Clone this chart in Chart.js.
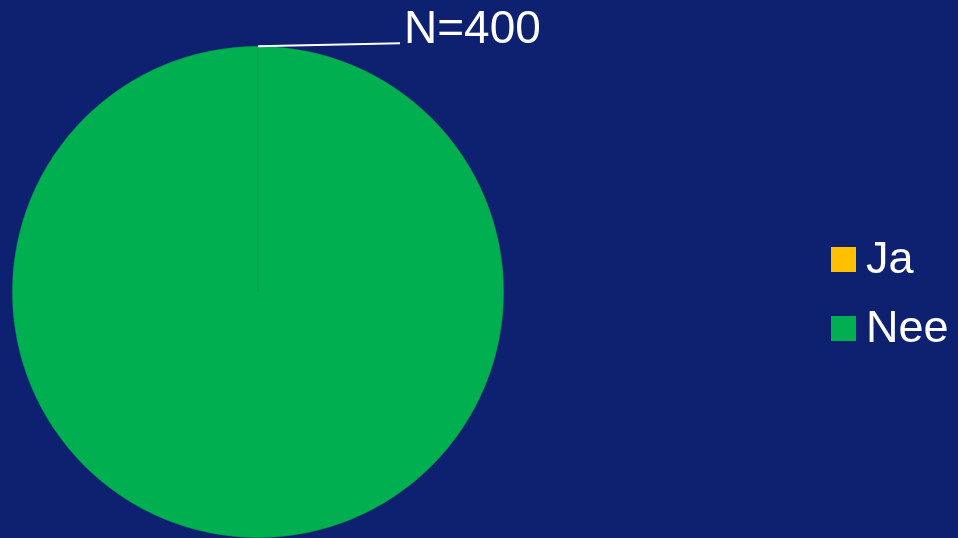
<!DOCTYPE html>
<html>
<head>
<meta charset="utf-8">
<script src="https://cdn.jsdelivr.net/npm/chart.js@4/dist/chart.umd.min.js"></script>
<style>
  html, body { margin: 0; padding: 0; background: #0E2070; overflow: hidden; }
  #wrap { position: relative; width: 958px; height: 538px; }
</style>
</head>
<body>
<div id="wrap"><canvas id="c" width="958" height="538"></canvas></div>
<script>
const categories = ['Ja', 'Nee'];
const counts = [0, 400];
const sliceColors = ['#FFC000', '#00B050'];
const totalLabelPrefix = 'N=';

const FONT = '"Liberation Sans", Arial, sans-serif';

// Total label with a leader line from the top of the pie
const totalLabel = {
  id: 'totalLabel',
  afterDatasetsDraw(chart) {
    const arc = chart.getDatasetMeta(0).data[0];
    if (!arc) return;
    const { x, y, outerRadius } = arc.getProps(['x', 'y', 'outerRadius'], true);
    const ctx = chart.ctx;
    const total = chart.data.datasets[0].data.reduce((a, b) => a + b, 0);
    const sx = x, sy = y - outerRadius;
    ctx.save();
    ctx.strokeStyle = '#FFFFFF';
    ctx.lineWidth = 2;
    ctx.beginPath();
    ctx.moveTo(sx, sy);
    ctx.lineTo(sx + 142, sy - 3);
    ctx.stroke();
    ctx.fillStyle = '#FFFFFF';
    ctx.font = '46px ' + FONT;
    ctx.textBaseline = 'alphabetic';
    ctx.textAlign = 'left';
    ctx.fillText(totalLabelPrefix + total, sx + 146, sy - 3);
    ctx.restore();
  }
};

// Legend on the right side
const sideLegend = {
  id: 'sideLegend',
  afterDraw(chart) {
    const ctx = chart.ctx;
    const labels = chart.data.labels;
    const colors = chart.data.datasets[0].backgroundColor;
    ctx.save();
    ctx.font = '45px ' + FONT;
    ctx.textBaseline = 'alphabetic';
    labels.forEach((lab, i) => {
      const top = 247 + i * 69;
      ctx.fillStyle = colors[i];
      ctx.fillRect(831, top, 25, 25);
      ctx.fillStyle = '#FFFFFF';
      ctx.fillText(lab, 866, top + 26);
    });
    ctx.restore();
  }
};

new Chart(document.getElementById('c'), {
  type: 'pie',
  data: {
    labels: categories,
    datasets: [{
      data: counts,
      backgroundColor: sliceColors,
      borderColor: 'rgba(0,140,70,0.6)',
      borderWidth: 0.6
    }]
  },
  options: {
    responsive: false,
    animation: false,
    layout: { padding: { left: 12, right: 454, top: 46, bottom: 0 } },
    plugins: {
      legend: { display: false },
      tooltip: { enabled: false }
    }
  },
  plugins: [totalLabel, sideLegend]
});
</script>
</body>
</html>
